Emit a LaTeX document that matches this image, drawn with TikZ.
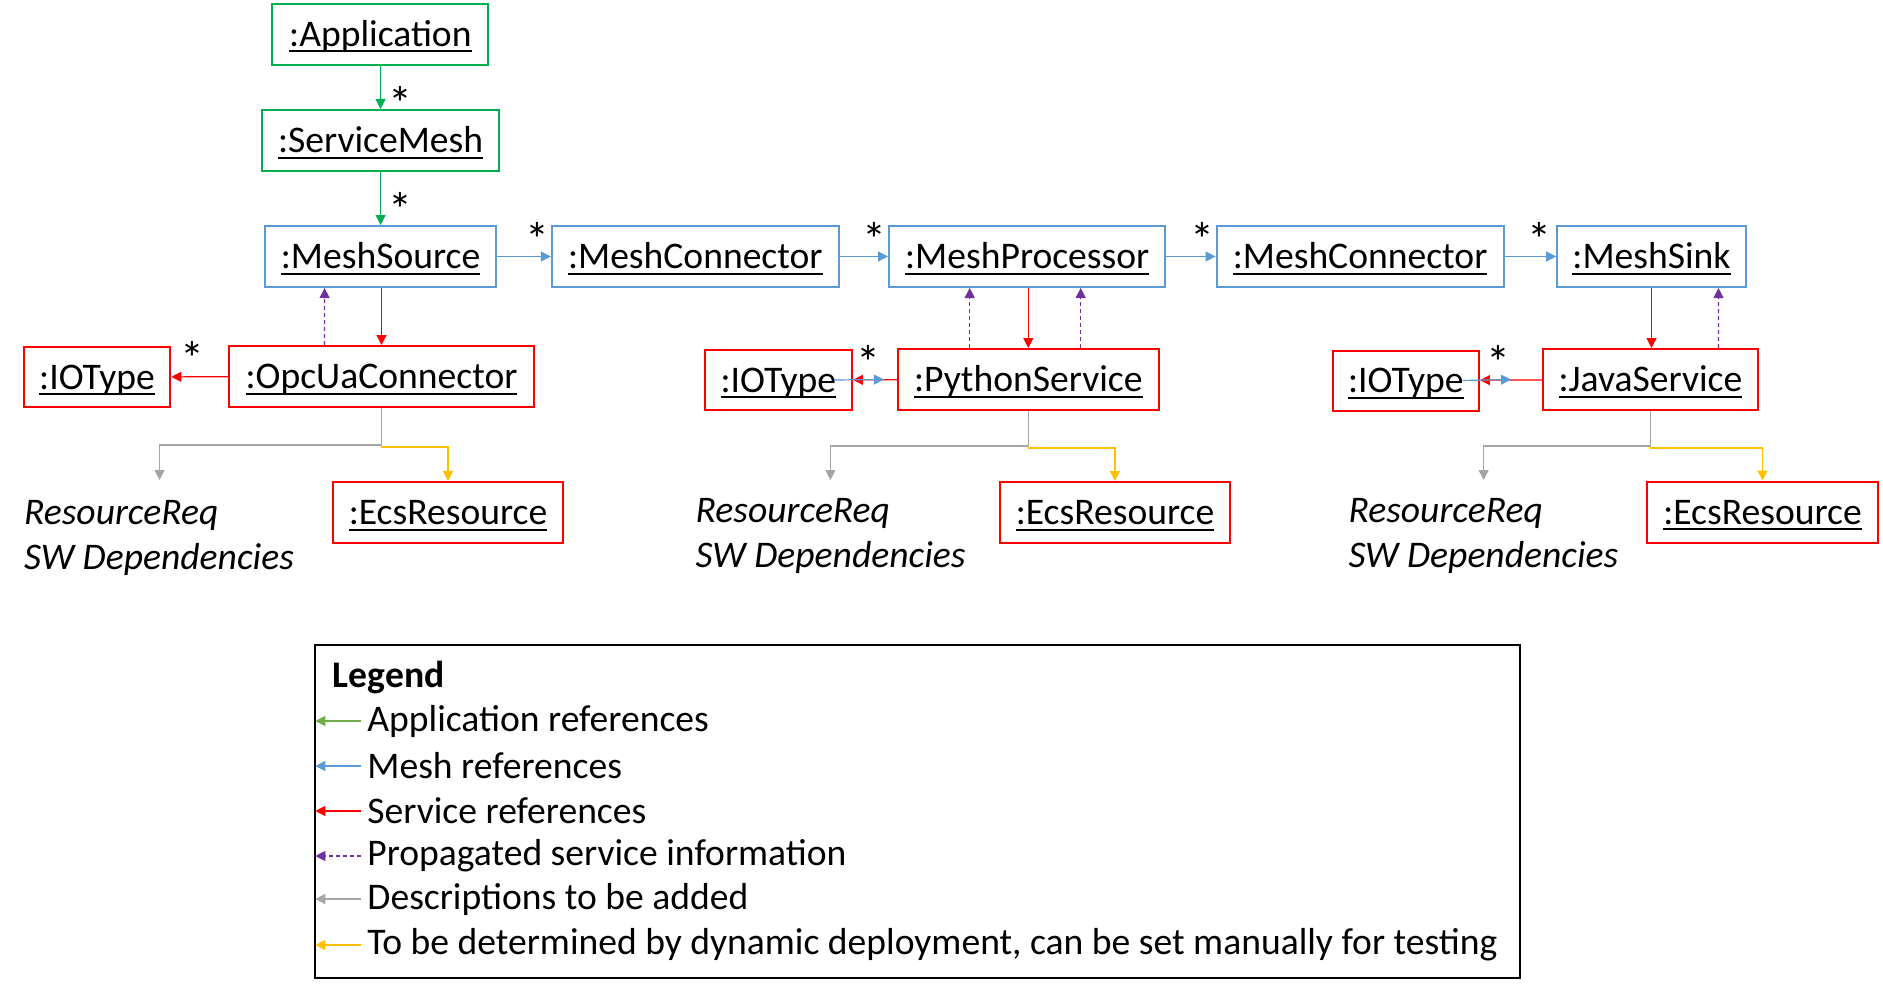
\documentclass[tikz,border=0pt]{standalone}
\usepackage{fontspec}
\setmainfont{Carlito}
\usetikzlibrary{arrows.meta, calc}
\definecolor{appgreen}{HTML}{00B050}
\definecolor{leggreen}{HTML}{70AD47}
\definecolor{meshblue}{HTML}{5B9BD5}
\definecolor{svcred}{HTML}{FF0000}
\definecolor{propviolet}{HTML}{7030A0}
\definecolor{descgray}{HTML}{A5A5A5}
\definecolor{detyellow}{HTML}{FFC000}
\newcommand{\obj}[1]{\setbox0=\hbox{#1}\rlap{\rule[-2.9pt]{\wd0}{1pt}}\box0}

\begin{document}
\begin{tikzpicture}[x=0.5pt, y=-0.5pt, >={Triangle[length=5pt, width=5pt]},
  font=\fontsize{18.8}{22.5}\selectfont,
  box/.style={draw, line width=1pt, inner sep=0pt, minimum height=30.5pt, text height=15pt, text depth=2.8pt},
  appbox/.style={box, draw=appgreen},
  meshbox/.style={box, draw=meshblue},
  svcbox/.style={box, draw=svcred},
  appref/.style={->, draw=appgreen, line width=0.6pt},
  meshref/.style={->, draw=meshblue, fill=meshblue, line width=0.6pt},
  svcref/.style={->, draw=svcred, fill=svcred, line width=0.6pt},
  propref/.style={->, draw=propviolet, line width=0.6pt, dash pattern=on 2pt off 1.5pt},
  descref/.style={->, draw=descgray, line width=0.7pt},
  detref/.style={->, draw=detyellow, line width=0.7pt},
  mult/.style={inner sep=0pt, font=\fontsize{24}{24}\selectfont},
  reqtext/.style={anchor=north west, inner sep=0pt, align=left, font=\fontsize{18.8}{22.5}\selectfont\itshape}]

\useasboundingbox (0,0) rectangle (1883,990);

% Application and mesh
\node[appbox, minimum width=108pt] (app) at (380.4,34.5) {\obj{:Application}};
\node[appbox, minimum width=118.8pt] (mesh) at (380.6,140.5) {\obj{:ServiceMesh}};

% Mesh chain
\node[meshbox, minimum width=115.8pt] (src) at (380.6,256.5) {\obj{:MeshSource}};
\node[meshbox, minimum width=143.5pt] (conna) at (695.3,256.5) {\obj{:MeshConnector}};
\node[meshbox, minimum width=138.2pt] (proc) at (1027.2,256.5) {\obj{:MeshProcessor}};
\node[meshbox, minimum width=143.5pt] (connb) at (1360.1,256.5) {\obj{:MeshConnector}};
\node[meshbox, minimum width=94.3pt] (sink) at (1651.5,256.5) {\obj{:MeshSink}};

% Services
\node[svcbox, minimum width=73.3pt, minimum height=30pt] (ioa) at (97,377) {\obj{:IOType}};
\node[svcbox, minimum width=152.7pt] (opc) at (381.5,376.5) {\obj{:OpcUaConnector}};
\node[svcbox, minimum width=73.5pt, minimum height=30pt] (iob) at (778.4,380) {\obj{:IOType}};
\node[svcbox, minimum width=130.5pt] (py) at (1028.3,379.5) {\obj{:PythonService}};
\node[svcbox, minimum width=73pt, minimum height=30pt] (ioc) at (1405.9,380.5) {\obj{:IOType}};
\node[svcbox, minimum width=107.5pt] (java) at (1650.4,379.5) {\obj{:JavaService}};

% Resources
\node[svcbox, minimum width=115.2pt] (ecsa) at (448,512.5) {\obj{:EcsResource}};
\node[svcbox, minimum width=115pt] (ecsb) at (1115,512.5) {\obj{:EcsResource}};
\node[svcbox, minimum width=115.7pt] (ecsc) at (1762.5,512) {\obj{:EcsResource}};

\node[reqtext] (reqa) at (23.7,500) {ResourceReq\\SW Dependencies};
\node[reqtext] (reqb) at (695.3,498) {ResourceReq\\SW Dependencies};
\node[reqtext] (reqc) at (1348.1,498) {ResourceReq\\SW Dependencies};
\coordinate (tipa) at (159.6,480);
\coordinate (tipb) at (830.4,480);
\coordinate (tipc) at (1483.6,480);

% Application references
\draw[appref] (app) -- (mesh);
\draw[appref] (mesh) -- (src);
\node[mult] (ma) at (400.7,103) {*};
\node[mult] (mb) at (400.7,209) {*};

% Mesh references
\draw[meshref] (src) -- (conna);
\draw[meshref] (conna) -- (proc);
\draw[meshref] (proc) -- (connb);
\draw[meshref] (connb) -- (sink);
\node[mult] (mc) at (537,239) {*};
\node[mult] (md) at (874.4,239) {*};
\node[mult] (me) at (1202.4,239) {*};
\node[mult] (mf) at (1539.8,239) {*};

% Service references
\draw[svcref] (src.south -| opc.north) -- (opc.north);
\draw[svcref] (proc.south -| py.north) -- (py.north);
\draw[svcref] (sink.south) -- (sink.south |- java.north);
\draw[svcref] (opc) -- (ioa);
\draw[svcref] (py) -- (iob);
\draw[svcref] (java) -- (ioc);
\draw[meshref] ($(iob.east)+(-19,0)$) -- ($(py.west)+(-13,0)$);
\draw[meshref] ($(ioc.east)+(-17,0)$) -- ($(java.west)+(-31,0)$);
\node[mult] (mg) at (192.5,358) {*};
\node[mult] (mh) at (868.7,362) {*};
\node[mult] (mi) at (1498,362) {*};

% Propagated service information
\draw[propref] ($(opc.north)+(-57,0)$) -- ($(src.south)+(-56,0)$);
\draw[propref] ($(py.north)+(-58.6,0)$) -- ($(proc.south)+(-57.5,0)$);
\draw[propref] ($(py.north)+(52.4,0)$) -- ($(proc.south)+(53.5,0)$);
\draw[propref] ($(java.north)+(68,0)$) -- ($(sink.south)+(67,0)$);

% Descriptions and deployment
\draw[descref] (opc.south) -- ++(0,37) -| (tipa);
\draw[detref] (opc.south) ++(0,37) -- ++(0,2) -| (ecsa.north);
\draw[descref] (py.south) -- ++(0,35) -| (tipb);
\draw[detref] (py.south) ++(0,35) -- ++(0,2) -| (ecsb.north);
\draw[descref] (java.south) -- ++(0,35) -| (tipc);
\draw[detref] (java.south) ++(0,35) -- ++(0,2) -| (ecsc.north);

% Legend
\node[draw, line width=1pt, inner sep=0pt, minimum width=602.5pt, minimum height=166.5pt] (legend) at (917.8,811.3) {};
\node[anchor=west, inner sep=0pt, font=\fontsize{18.8}{22.5}\selectfont\bfseries] (legtitle) at (332.5,677) {Legend};
\node[anchor=west, inner sep=0pt] (lega) at (367,721) {Application references};
\node[anchor=west, inner sep=0pt] (legb) at (367,766) {Mesh references};
\node[anchor=west, inner sep=0pt] (legc) at (367,811) {Service references};
\node[anchor=west, inner sep=0pt] (legd) at (367,856) {Propagated service information};
\node[anchor=west, inner sep=0pt] (lege) at (367,899) {Descriptions to be added};
\node[anchor=west, inner sep=0pt] (legf) at (367,945) {To be determined by dynamic deployment, can be set manually for testing};
\draw[appref, draw=leggreen] ($(lega.west)+(-6,0)$) -- ($(lega.west -| legend.west)+(1,0)$);
\draw[meshref] ($(legb.west)+(-6,0)$) -- ($(legb.west -| legend.west)+(1,0)$);
\draw[svcref] ($(legc.west)+(-6,0)$) -- ($(legc.west -| legend.west)+(1,0)$);
\draw[propref] ($(legd.west)+(-6,0)$) -- ($(legd.west -| legend.west)+(1,0)$);
\draw[descref] ($(lege.west)+(-6,0)$) -- ($(lege.west -| legend.west)+(1,0)$);
\draw[detref] ($(legf.west)+(-6,0)$) -- ($(legf.west -| legend.west)+(1,0)$);

\end{tikzpicture}
\end{document}
